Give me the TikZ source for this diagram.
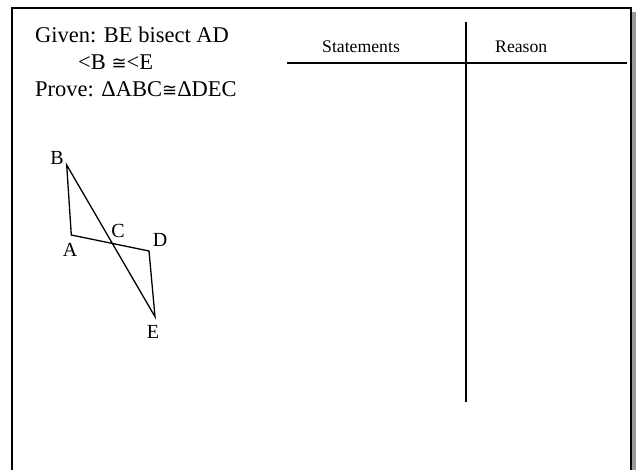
\documentclass[tikz,border=0pt]{standalone}
\usepackage{fontspec}
\setmainfont{Liberation Serif}
\newfontfamily\symfont{DejaVu Sans}
\newcommand{\congsym}{{\symfont\fontsize{18}{20}\selectfont ≅}}
\begin{document}
\begin{tikzpicture}[x=1pt,y=-1pt,
  frame/.style={line width=2pt,black},
  rule/.style={line width=1.8pt,black},
  big/.style={font=\fontsize{22.5}{24}\selectfont,inner sep=0pt,anchor=base west},
  small/.style={font=\fontsize{17.7}{19}\selectfont,inner sep=0pt,anchor=base west},
  lab/.style={font=\fontsize{20}{21}\selectfont,inner sep=0pt},
  edge/.style={line width=1.3pt,black}]
\useasboundingbox (0,0) rectangle (639,470);
% shadow and frame
\fill[gray!80] (632,12) rectangle (636,472);
\draw[frame] (12,472) -- (12,8) -- (631,8) -- (631,472);
% header text
\node[big] (given) at (35,43) {Given: BE bisect AD};
\node[big] (angles) at (78,70) {<B \congsym<E};
\node[big] (prove) at (35,97) {Prove: ΔABC\congsym ΔDEC};
% table
\node[small] (st) at (322,53) {Statements};
\node[small] (re) at (495,53) {Reason};
\coordinate (hl) at (287,63);
\coordinate (hr) at (627,63);
\coordinate (vt) at (466,22);
\coordinate (vb) at (466,402);
\draw[rule] (hl) -- (hr);
\draw[rule] (vt) -- (vb);
% figure
\coordinate (B) at (66.7,165);
\coordinate (A) at (71.3,235);
\coordinate (D) at (149,251);
\coordinate (E) at (155,316.7);
\draw[edge,line join=miter] (B) -- (A) -- (D) -- (E) -- cycle;
\node[lab] (lB) at (57,158) {B};
\node[lab] (lA) at (70,250) {A};
\node[lab] (lC) at (118,231) {C};
\node[lab] (lD) at (160,240) {D};
\node[lab] (lE) at (153,332) {E};
\end{tikzpicture}
\end{document}
